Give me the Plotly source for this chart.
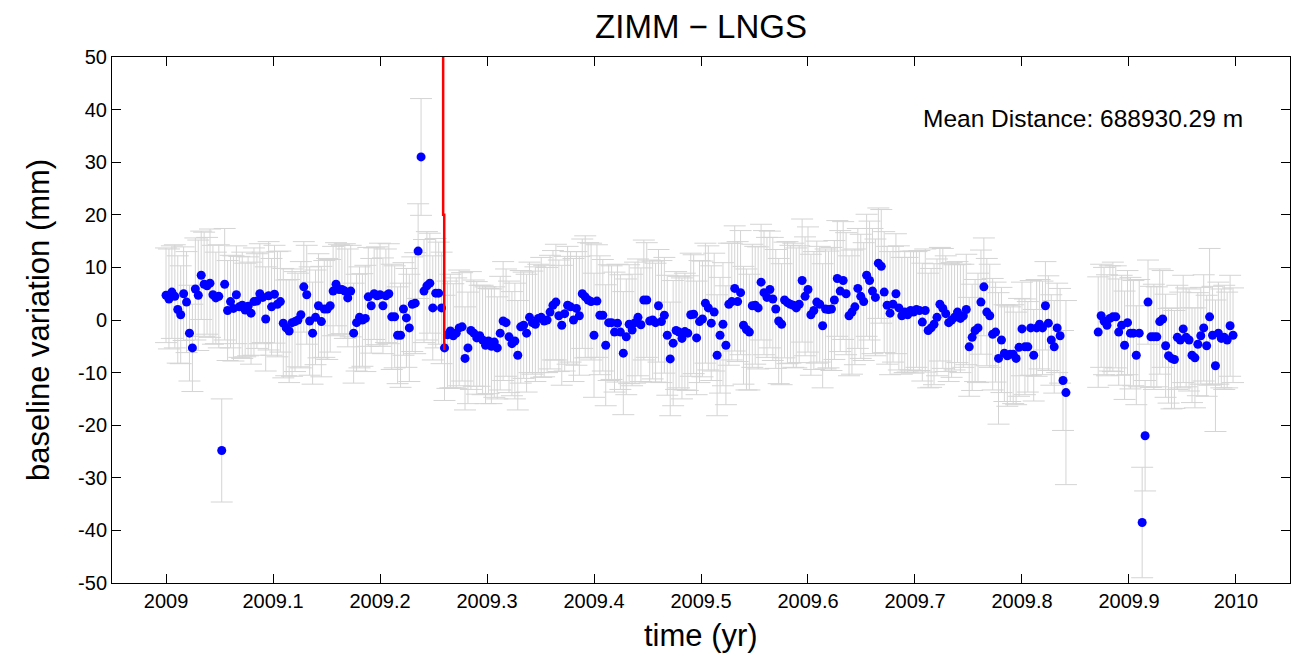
import plotly.graph_objects as go

# ---- data ----
year_start = 2009.0
days_per_year = 365.0

vals_a = [4.7, 4.0, 5.3, 4.5, 2.0, 1.0, 5.0, 3.4, -2.5, -5.3, 5.9, 4.7, 8.5, 6.8, 6.5, 7.0, 4.8, 4.2, 4.5, -24.8,
          6.8, 1.8, 3.5, 2.2, 4.8, 2.5, 2.8, 1.9, 2.6, 1.3, 3.5, 3.6, 5.0, 4.3, 0.2, 4.6, 2.5]
vals_b = [4.9, 3.0, 3.5, -0.6, -1.5, -2.1, -0.5, -0.3, 0.0, 1.0, 6.3, 4.8, -0.2, -2.5, 0.5, 2.7, -0.3, 2.1, 2.1, 2.7,
          5.5, 6.8, 5.8, 5.8, 5.5, 4.2, 5.5, -2.5]
vals_c = [-0.5, 0.5, 0.0, 0.3, 4.4, 2.7, 5.0, 4.6, 4.8, 2.7, 4.6, 5.0, 0.6, 0.6, -2.9, -2.9, 2.1, 0.4, -1.5, 3.0,
          3.2, 13.1, 31.0, 5.5, 6.5, 7.0, 2.3, 5.1, 5.1, 2.3, -5.3]
vals_d = [-2.8, -2.1, -3.0, -2.5, -1.5, -1.3, -7.3, -5.3, -2.0, -2.5, -3.4, -3.0, -3.8, -4.8, -4.0, -5.0, -4.2, -5.3,
          -2.5, -0.2, -0.5, -3.2, -4.5, -4.0, -6.7, -1.3, -1.0, -2.5, 0.5, -0.5, -0.8, 0.3, 0.5, -0.2, 0.0, 1.5, 2.8]
vals_e = [3.4, 0.8, -1.0, 1.2, 2.8, 2.5, 0.0, 2.2, 0.8, 5.0, 4.4, 3.8, 3.5, -2.9, 3.6, 0.9, 0.9, -4.8, -0.5, -0.5,
          -2.3, -0.6, -2.3, -6.3, -3.2, -0.8, -1.9, -0.5, 0.5, -0.9, 3.8, 3.8, -0.2, 0.0]
vals_f = [-0.5, 2.7, -0.3, 0.9, -2.9, -7.4, -4.4, -2.0, -2.3, -3.5, -2.2, -2.5, 1.0, 1.1, -3.4, -0.3, 0.2, 3.2, 2.3,
          -0.6, 1.5, -6.7, -2.9, -0.8, -4.8, 3.0, 3.5, 6.0, 3.5, 5.2, -1.0, -1.8, -2.3, 2.7]
vals_g = [2.8, 2.3, 7.2, 5.2, 4.3, 5.8, 4.0, 2.1, -0.2, -0.8, 3.8, 3.3, 3.0, 2.8, 2.3, 3.0, 7.5, 4.5, 5.8, 1.0,
          1.8, 3.4, 3.0, -1.1, 2.1, 2.0, 2.1, 3.8, 7.9, 5.5, 7.5, 5.0, 0.8, 1.5]
vals_h = [2.5, 6.0, 4.5, 3.5, 8.5, 7.5, 5.5, 4.3, 10.8, 10.2, 5.3, 2.8, 1.3, 3.0, 5.0, 2.3, 0.8, 1.5, 1.0, 1.8,
          1.5, 2.0, 1.8, -0.4, 1.8, -2.0, -1.5, -0.8, 0.5, 3.0, 2.2, 1.2, -0.5, 0.0]
vals_i = [0.5, 1.5, 0.3, 0.8, 2.0, -5.1, -3.3, -2.0, -1.5, 3.4, 6.3, 1.5, 0.8, -2.7, -2.3, -7.3, -3.8, -6.3, -6.8,
          -6.5, -6.5, -7.3, -5.2, -1.7, -5.1, -5.1, -1.5, -6.7, -1.5, -0.8, -1.5, 2.7, -0.6, -3.8, -5.1]
vals_j = [-1.5, -3.0, -11.5, -13.8]
vals_gap = [None] * 10
vals_k = [-2.3, 0.8, -0.2, -1.0, 0.3, 0.6, 0.6, -2.3, -1.0, -4.8, -0.5, -2.5, -2.5, -6.7, -2.5, -38.5, -22.0, 3.4,
          -3.2, -3.2]
vals_l = [-3.2, -0.3, 0.2, -4.9, -6.8, -7.3, -7.5, -3.3, -3.8, -1.7, -3.3, -3.8, -6.7, -7.2, -4.6, -3.0, -1.5, -4.9,
          0.6, -2.9, -8.7, -2.5, -3.5, -3.3, -3.8, -1.1, -2.9]

err_a = [9.0, 9.5, 8.8, 9.8, 10.2, 9.3, 8.9, 9.6, 9.1, 8.3, 9.7, 10.5, 8.4, 9.9, 9.2, 10.3, 9.4, 8.7, 9.8, 9.8,
         10.6, 9.5, 8.8, 10.0, 9.3, 9.6, 10.1, 8.9, 9.4, 9.7, 10.2, 9.0, 9.5, 8.6, 9.9, 10.3, 9.2]
err_b = [9.3, 10.0, 9.6, 10.4, 9.1, 9.8, 10.2, 9.5, 8.9, 10.1, 8.6, 9.4, 10.3, 9.7, 9.0, 9.9, 10.5, 9.2, 9.6, 8.8,
         8.5, 7.9, 8.6, 8.4, 9.0, 9.3, 8.7, 9.5]
err_c = [9.2, 9.6, 8.8, 10.1, 9.4, 9.0, 8.7, 9.3, 9.8, 9.1, 8.9, 9.5, 10.0, 9.7, 9.2, 9.9, 8.8, 9.4, 10.2, 9.0,
         9.6, 9.0, 11.1, 9.8, 10.3, 9.5, 9.9, 10.4, 9.7, 10.6, 10.0]
err_d = [10.2, 10.8, 9.9, 10.5, 11.0, 10.3, 9.8, 10.6, 11.2, 10.1, 10.7, 9.6, 10.4, 11.1, 10.0, 10.9, 10.5, 9.7,
         10.8, 11.3, 10.2, 10.6, 9.9, 11.0, 10.4, 10.7, 10.1, 11.2, 10.5, 9.8, 10.9, 10.3, 11.4, 10.6, 10.0, 10.8, 10.4]
err_e = [11.0, 10.6, 11.4, 10.9, 11.2, 10.5, 11.7, 10.8, 11.3, 10.4, 11.6, 10.9, 11.1, 11.8, 10.7, 11.3, 10.6, 11.5,
         11.0, 10.8, 11.4, 11.2, 10.9, 11.7, 11.0, 11.3, 10.6, 11.5, 11.1, 10.8, 11.4, 10.9, 11.6, 11.2]
err_f = [11.3, 10.7, 11.6, 11.0, 11.4, 10.8, 11.9, 11.2, 10.6, 11.5, 11.1, 10.9, 11.7, 11.3, 10.8, 11.6, 11.0, 11.4,
         11.8, 10.9, 11.2, 11.5, 11.0, 11.7, 11.3, 11.6, 11.1, 11.9, 11.4, 11.8, 11.2, 11.5, 11.0, 11.7]
err_g = [11.2, 11.6, 11.0, 11.8, 11.4, 11.1, 11.7, 11.3, 11.9, 11.5, 11.0, 11.6, 11.2, 11.8, 11.4, 11.1, 11.7, 11.3,
         11.9, 11.5, 11.2, 11.6, 11.0, 11.8, 11.4, 11.1, 11.7, 11.3, 11.0, 11.5, 11.2, 11.6, 11.4, 11.8]
err_h = [11.0, 11.4, 11.8, 11.2, 11.6, 11.3, 11.9, 11.1, 10.5, 10.8, 11.5, 11.2, 11.7, 11.0, 11.4, 11.8, 11.1, 11.5,
         10.9, 11.3, 11.6, 11.0, 11.4, 11.2, 11.7, 10.9, 11.3, 11.5, 11.1, 10.8, 11.4, 11.0, 11.2, 10.9]
err_i = [10.0, 9.6, 10.3, 9.8, 10.5, 9.4, 10.1, 9.7, 10.4, 9.9, 9.3, 10.2, 9.8, 10.6, 9.5, 12.5, 10.0, 9.2, 9.6,
         9.0, 9.4, 8.8, 9.3, 8.9, 9.1, 8.6, 9.0, 8.7, 9.2, 8.5, 8.9, 8.4, 9.0, 8.6, 8.8]
err_j = [8.5, 9.0, 9.5, 17.5]
err_gap = [None] * 10
err_k = [10.5, 9.8, 10.2, 9.6, 10.0, 10.4, 9.7, 10.1, 9.5, 10.3, 9.9, 10.6, 10.0, 9.4, 10.2, 10.5, 10.5, 8.0, 9.6,
         10.0]
err_l = [9.5, 10.0, 9.2, 9.8, 9.0, 9.6, 9.3, 9.9, 9.1, 10.2, 9.4, 9.7, 9.0, 9.5, 9.8, 9.2, 10.1, 9.6, 13.0, 9.3,
         12.5, 9.7, 9.4, 9.9, 9.1, 9.6, 9.0]

# equipment-change marker (red line)
change_x = [2009.2590, 2009.2590, 2009.2600, 2009.2600]
change_y = [50, 20, 20, -5.7]

x_tickvals = [2009.0, 2009.1, 2009.2, 2009.3, 2009.4, 2009.5, 2009.6, 2009.7, 2009.8, 2009.9, 2010.0]
x_ticktext = ["2009", "2009.1", "2009.2", "2009.3", "2009.4", "2009.5", "2009.6", "2009.7", "2009.8", "2009.9", "2010"]
y_tickvals = [50, 40, 30, 20, 10, 0, -10, -20, -30, -40, -50]
y_ticktext = ["50", "40", "30", "20", "10", "0", "-10", "-20", "-30", "-40", "-50"]

# ---- assemble ----
values = vals_a + vals_b + vals_c + vals_d + vals_e + vals_f + vals_g + vals_h + vals_i + vals_j + vals_gap + vals_k + vals_l
errors = err_a + err_b + err_c + err_d + err_e + err_f + err_g + err_h + err_i + err_j + err_gap + err_k + err_l
times = [year_start + d / days_per_year for d in range(len(values))]

FONT = "Liberation Sans, Arial, sans-serif"
W, H = 1291, 658

fig = go.Figure()
fig.add_trace(go.Scatter(
    x=times, y=values, mode="markers",
    marker=dict(size=1, color="rgba(0,0,0,0)"),
    error_y=dict(type="data", array=errors, visible=True, color="rgb(212,212,212)", thickness=1, width=11),
    hoverinfo="skip", showlegend=False,
))
fig.add_trace(go.Scatter(
    x=times, y=values, mode="markers",
    marker=dict(size=9, color="#0000ff", line=dict(width=0)),
    showlegend=False,
))
fig.add_trace(go.Scatter(
    x=change_x, y=change_y, mode="lines",
    line=dict(color="#ff0000", width=2.5),
    showlegend=False, hoverinfo="skip",
))

axis_common = dict(
    showgrid=False, zeroline=False, showline=True, linecolor="black", linewidth=1,
    mirror="allticks", ticks="inside", ticklen=9, tickcolor="black", tickwidth=1,
    tickfont=dict(family=FONT, size=20, color="black"),
)

fig.update_layout(
    width=W, height=H,
    margin=dict(l=112, r=1, t=57, b=H - 583),
    paper_bgcolor="white", plot_bgcolor="white",
    font=dict(family=FONT, color="black"),
    title=dict(text="ZIMM \u2212 LNGS", x=0.5, xref="paper", y=1 - 26 / H, yref="container",
               xanchor="center", yanchor="middle", font=dict(family=FONT, size=33, color="black")),
    xaxis=dict(range=[2008.9495, 2010.0505], tickvals=x_tickvals, ticktext=x_ticktext, **axis_common),
    yaxis=dict(range=[-50, 50], tickvals=y_tickvals, ticktext=y_ticktext, **axis_common),
    annotations=[
        dict(text="time (yr)", x=0.5, y=-52 / 526, xref="paper", yref="paper", xanchor="center", yanchor="middle",
             showarrow=False, font=dict(family=FONT, size=31, color="black")),
        dict(text="baseline variation (mm)", x=-74 / 1178, y=0.5, xref="paper", yref="paper", xanchor="center",
             yanchor="middle", textangle=-90, showarrow=False, font=dict(family=FONT, size=31, color="black")),
        dict(text="Mean Distance: 688930.29 m", x=(1245 - 112) / 1178, y=(583 - 118) / 526, xref="paper",
             yref="paper", xanchor="right", yanchor="middle", showarrow=False,
             font=dict(family=FONT, size=24.5, color="black")),
    ],
)

# remove the default page margin so the figure sits at the window's top-left corner
fig.write_html("out.html", config={"displayModeBar": False},
               post_script="document.body.style.margin='0';")
